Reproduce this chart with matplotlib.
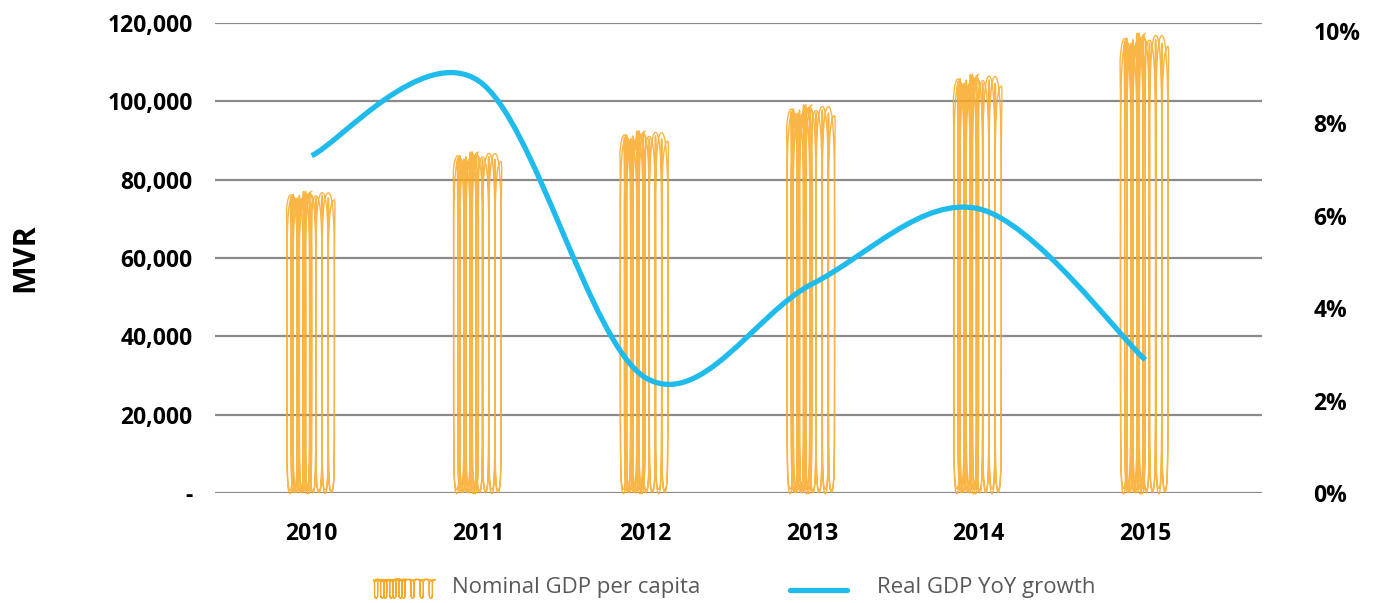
import numpy as np
import matplotlib
matplotlib.use('Agg')
import matplotlib.pyplot as plt
from matplotlib.path import Path
from matplotlib.patches import PathPatch
from matplotlib.lines import Line2D
from matplotlib.ticker import FuncFormatter, MultipleLocator

plt.rcParams['font.family'] = ['Open Sans', 'DejaVu Sans']

years = ['2010', '2011', '2012', '2013', '2014', '2015']
gdp_per_capita = [77300, 87400, 92800, 99500, 107300, 117800]   # MVR
real_growth = [0.0730, 0.0892, 0.0250, 0.0452, 0.0615, 0.0288]   # YoY

ORANGE = '#F9A825'
BLUE = '#1FBBEC'
GRID = '#8A8A8A'
W, H = 1381, 603

fig = plt.figure(figsize=(W / 100, H / 100), dpi=100)
ax = fig.add_axes([215 / W, 1 - 493 / H, 1047 / W, 470 / H])
ax2 = ax.twinx()


def scribble(c, top, hw, loops=22, amp=0.12, passes=1.5):
    # hand-drawn style fill: tall loops with vertical strokes; the pen only
    # shifts sideways while turning at the top of each loop
    t = np.linspace(0, 1, 9000)
    u = loops * t
    v = u + 0.5
    k = np.floor(v)
    f = np.clip((v - k - 0.35) / 0.3, 0, 1)
    g = (k + f * f * (3 - 2 * f) - 0.5) / loops
    sweep = 2 * np.abs(((passes * g + 0.25) % 1) - 0.5)     # triangle wave 0..1
    xb = c - hw * (1 - amp) + 2 * hw * (1 - amp) * sweep
    phi = 2 * np.pi * u
    x = xb + hw * amp * np.tanh(2.5 * np.sin(phi)) / np.tanh(2.5)
    hi = top * (0.982 + 0.018 * np.sin(2 * np.pi * 5.3 * t) * np.cos(2 * np.pi * 2.1 * t))
    lo = top * (0.004 + 0.006 * np.sin(2 * np.pi * 3.7 * t + 1.0))
    y = lo + (hi - lo) * (0.5 + 0.5 * np.cos(phi))
    return x, y


x = np.arange(len(years))
for xi, v in zip(x, gdp_per_capita):
    sx, sy = scribble(xi, v, 0.155)
    ax.plot(sx, sy, color=ORANGE, lw=1.0, alpha=0.85, zorder=2, clip_on=False)


def smooth_path(xs, ys):
    # Catmull-Rom style bezier through the points
    pts = np.column_stack([xs, ys])
    verts = [pts[0]]
    codes = [Path.MOVETO]
    n = len(pts)
    for i in range(n - 1):
        p0 = pts[max(i - 1, 0)]
        p1, p2 = pts[i], pts[i + 1]
        p3 = pts[min(i + 2, n - 1)]
        verts += [p1 + (p2 - p0) / 6, p2 - (p3 - p1) / 6, p2]
        codes += [Path.CURVE4] * 3
    return Path(verts, codes)


ax2.add_patch(PathPatch(smooth_path(x, real_growth), fill=False, edgecolor=BLUE,
                        lw=3.8, capstyle='butt', zorder=3))

ax.set_xlim(-0.58, 5.70)
ax.set_ylim(0, 120000)
ax2.set_ylim(0, 0.1017)
ax.yaxis.set_major_locator(MultipleLocator(20000))
ax.yaxis.set_major_formatter(FuncFormatter(lambda v, p: '-' if v == 0 else f'{v:,.0f}'))
ax2.set_yticks(np.arange(0, 0.101, 0.02))
ax2.yaxis.set_major_formatter(FuncFormatter(lambda v, p: f'{v * 100:.0f}%'))
ax.set_xticks(x)
ax.set_xticklabels(years)

ax.grid(axis='y', color=GRID, lw=1.6)
ax.set_axisbelow(True)
for a in (ax, ax2):
    for s in a.spines.values():
        s.set_visible(False)
ax.tick_params(axis='both', length=0, labelsize=16.5, labelcolor='black')
ax.tick_params(axis='y', pad=16)
ax.tick_params(axis='x', pad=21)
ax2.tick_params(axis='y', length=0, labelsize=16.5, pad=37)
for lab in ax.get_xticklabels() + ax.get_yticklabels() + ax2.get_yticklabels():
    lab.set_fontweight('bold')

fig.text(25 / W, 1 - 258 / H, 'MVR', rotation=90, ha='center', va='center',
         fontsize=22, fontweight='bold')

# legend drawn in figure coordinates
lx, ly = scribble(405, 19, 32, loops=20, amp=0.05)
fig.add_artist(Line2D(lx / W, 1 - (598 - ly) / H, color=ORANGE, lw=0.9,
                      transform=fig.transFigure))
fig.text(452 / W, 1 - 588 / H, 'Nominal GDP per capita', ha='left', va='center',
         fontsize=16, color='#595959')
fig.add_artist(Line2D([790 / W, 847 / W], [1 - 590 / H, 1 - 590 / H], color=BLUE,
                      lw=3.8, solid_capstyle='round', transform=fig.transFigure))
fig.text(877 / W, 1 - 588 / H, 'Real GDP YoY growth', ha='left', va='center',
         fontsize=16, color='#595959')

fig.savefig('out.png', dpi=100)
